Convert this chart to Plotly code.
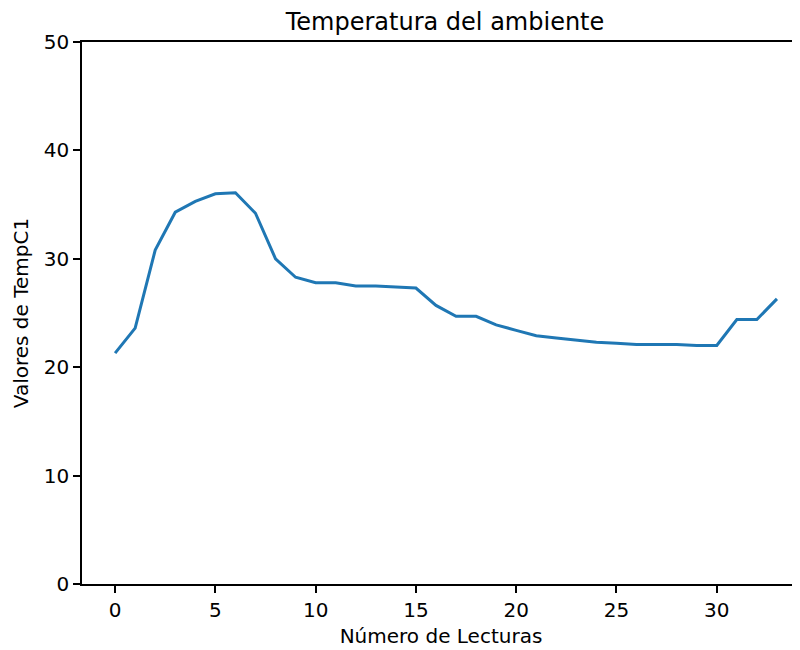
import plotly.graph_objects as go

lecturas = list(range(34))
temp_c1 = [21.3, 23.6, 30.8, 34.3, 35.3, 36.0, 36.1, 34.2, 30.0, 28.3,
           27.8, 27.8, 27.5, 27.5, 27.4, 27.3, 25.7, 24.7, 24.7, 23.9,
           23.4, 22.9, 22.7, 22.5, 22.3, 22.2, 22.1, 22.1, 22.1, 22.0,
           22.0, 24.4, 24.4, 26.3]

title = "Temperatura del ambiente"
x_title = "Número de Lecturas"
y_title = "Valores de TempC1"

fig = go.Figure()
fig.add_trace(go.Scatter(x=lecturas, y=temp_c1, mode="lines",
                         line=dict(color="#1f77b4", width=3), showlegend=False))

font = "DejaVu Sans"
fig.update_layout(
    width=800, height=650,
    margin=dict(l=74, r=8, t=34, b=74),
    paper_bgcolor="white", plot_bgcolor="white",
    font=dict(family=font, size=20, color="black"),
    title=dict(text=title, x=(445 - 8) / 800, xanchor="center", y=1 - 14/650, yanchor="middle",
               font=dict(size=24, family=font)),
    xaxis=dict(range=[-1.65, 34.15], tickvals=[0, 5, 10, 15, 20, 25, 30],
               showgrid=False, zeroline=False, showline=True, linecolor="black",
               linewidth=1.6, mirror=True, ticks="outside", ticklen=7, tickwidth=1.6,
               tickcolor="black", tickfont=dict(size=20),
               title=dict(text=x_title, font=dict(size=20), standoff=8)),
    yaxis=dict(range=[0, 50], tickvals=[0, 10, 20, 30, 40, 50],
               showgrid=False, zeroline=False, showline=True, linecolor="black",
               linewidth=1.6, ticks="outside", ticklen=7, tickwidth=1.6,
               tickcolor="black", tickfont=dict(size=20),
               title=dict(text=y_title, font=dict(size=20), standoff=10)),
)

fig.write_html("out.html")
